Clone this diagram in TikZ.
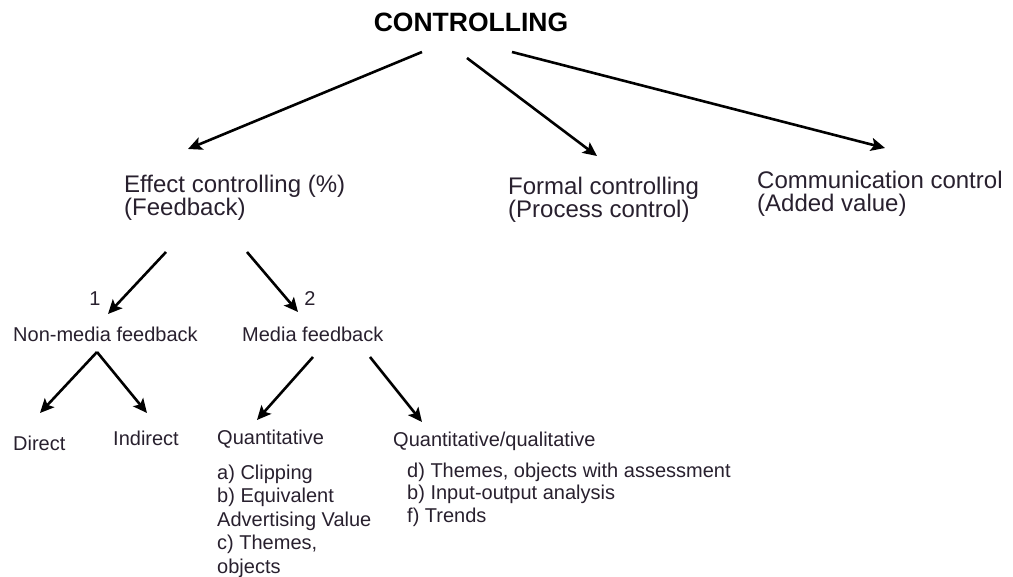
\documentclass[tikz,border=0pt]{standalone}
\usepackage{fontspec}
\setmainfont{Liberation Sans}
\usetikzlibrary{positioning, arrows.meta, calc}
\definecolor{txt}{RGB}{40,32,46}

\begin{document}
\begin{tikzpicture}[x=1pt, y=-1pt,
  head/.style={font=\fontsize{26.5}{28}\selectfont\bfseries, inner sep=0pt,
               anchor=base, text=black},
  branch/.style={font=\fontsize{24}{23}\selectfont, inner sep=0pt,
                 anchor=base west, align=left, text=txt},
  leaf/.style={font=\fontsize{20}{23.5}\selectfont, inner sep=0pt,
               anchor=base west, align=left, text=txt},
  num/.style={font=\fontsize{20}{23}\selectfont, inner sep=0pt,
              anchor=base, text=txt},
  arr/.style={-{Stealth[length=14pt, width=13pt, inset=3pt]}, line width=2.6pt, draw=black},
]
\useasboundingbox (0,0) rectangle (1013,577);

% Top
\node[head] (ctrl) at (471,32) {CONTROLLING};

% First level (base = last line)
\node[branch] (effect) at (124,216) {Effect controlling (\%)\\(Feedback)};
\node[branch] (formal) at (508,218) {Formal controlling\\(Process control)};
\node[branch] (comm)   at (757,212) {Communication control\\(Added value)};

% Feedback kinds
\node[leaf] (nonmedia) at (13,342)  {Non-media feedback};
\node[leaf] (media)    at (242,342) {Media feedback};
\node[num]  (n1) at (95,306)  {1};
\node[num]  (n2) at (310,306) {2};

% Leaves
\node[leaf] (direct)    at (13,450)  {Direct};
\node[leaf] (indirect)  at (113,446) {Indirect};
\node[leaf] (quant)     at (217,445) {Quantitative};
\node[leaf] (quantqual) at (393,447) {Quantitative/qualitative};

% Lists
\node[leaf] (quantlist) at (217,573)
  {a) Clipping\\b) Equivalent\\Advertising Value\\c) Themes,\\objects};
\node[leaf, font=\fontsize{20}{22.5}\selectfont] (qqlist) at (407,522)
  {d) Themes, objects with assessment\\b) Input-output analysis\\f) Trends};

% Arrows
\draw[arr] ($(ctrl.base)+(-49,20)$) -- ($(effect.base west)+(64,-67)$);
\draw[arr] ($(ctrl.base)+(-4,26)$)  -- ($(formal.base west)+(89,-62)$);
\draw[arr] ($(ctrl.base)+(41,20)$)  -- ($(comm.base west)+(128,-64)$);
\draw[arr] ($(effect.base west)+(42,36)$)  -- ($(nonmedia.base west)+(95,-28)$);
\draw[arr] ($(effect.base west)+(123,36)$) -- ($(media.base west)+(56,-30)$);
\draw[arr] ($(nonmedia.base west)+(84,10)$) -- ($(direct.base west)+(27,-37)$);
\draw[arr] ($(nonmedia.base west)+(84,10)$) -- ($(indirect.base west)+(34,-33)$);
\draw[arr] ($(media.base west)+(71,15)$)  -- ($(quant.base west)+(40,-25)$);
\draw[arr] ($(media.base west)+(128,15)$) -- ($(quantqual.base west)+(29,-25)$);

\end{tikzpicture}
\end{document}
